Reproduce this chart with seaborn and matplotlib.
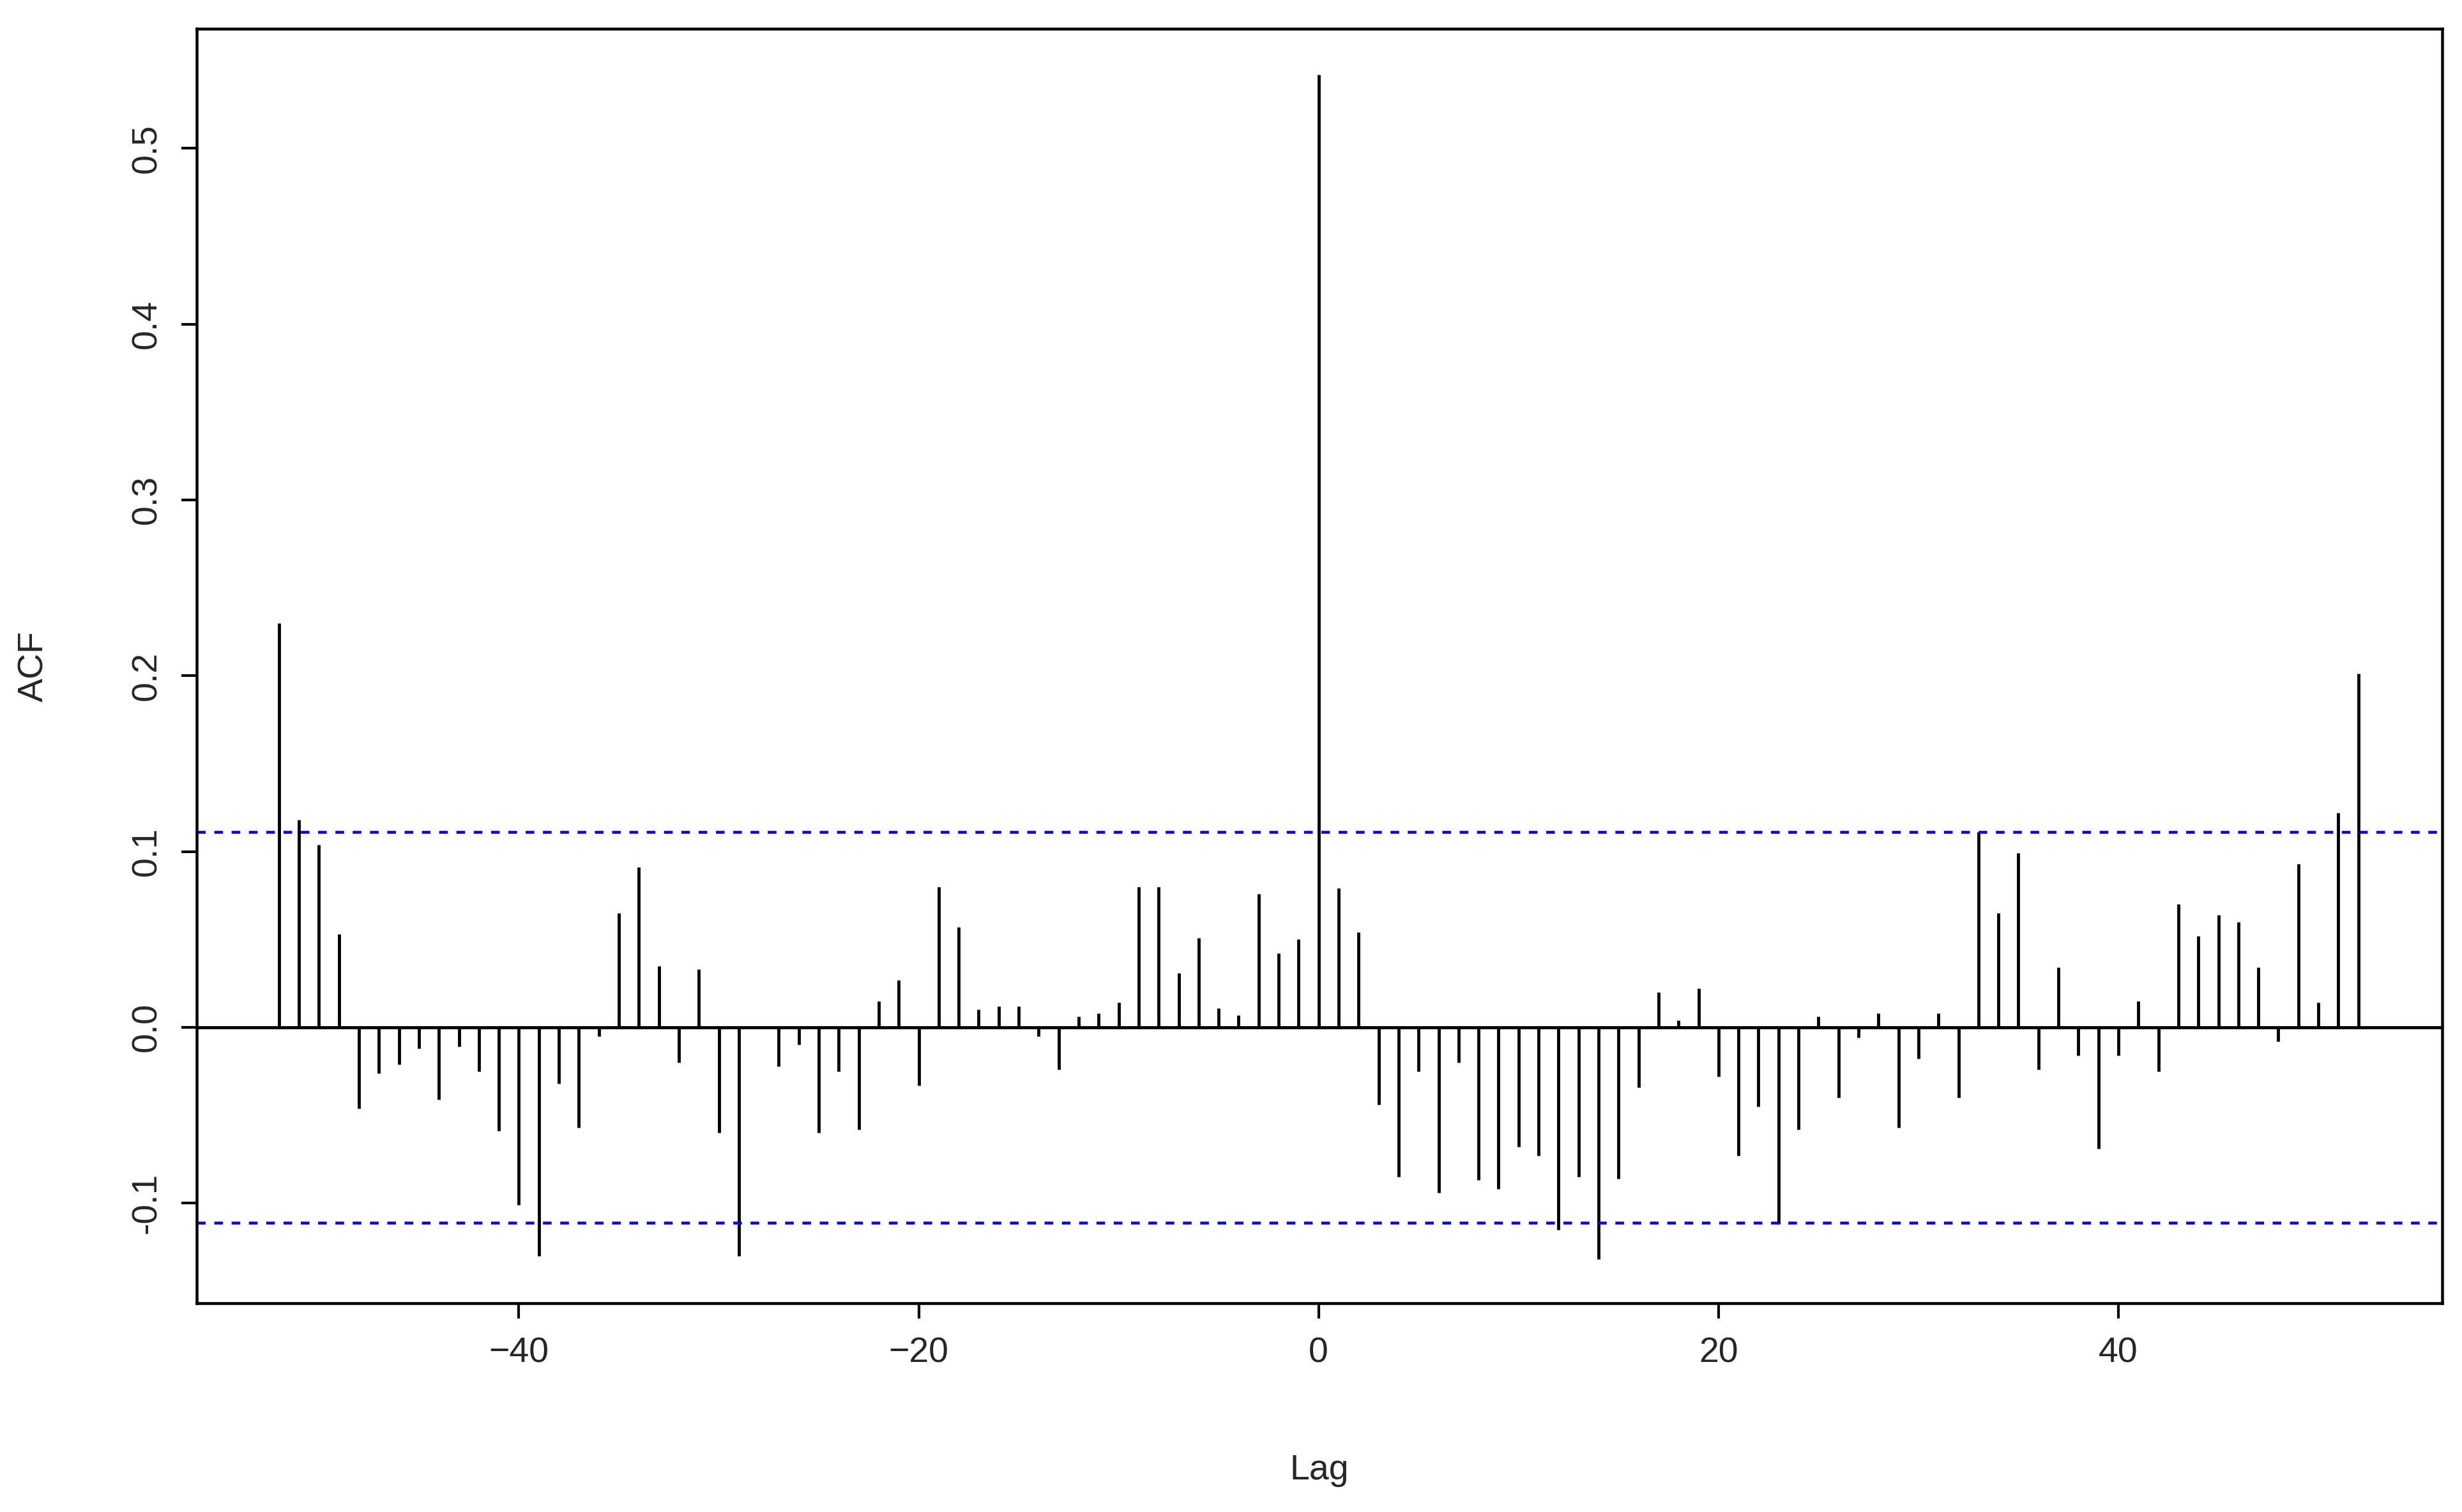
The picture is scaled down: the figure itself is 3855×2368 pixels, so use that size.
import numpy as np
import pandas as pd
import matplotlib
matplotlib.use("Agg")
import matplotlib.pyplot as plt
import seaborn as sns

lags = list(range(-52, 53))
acf_neg = [0.230, 0.118, 0.104, 0.053, -0.046, -0.026, -0.021, -0.012, -0.041, -0.011,
           -0.025, -0.059, -0.101, -0.130, -0.032, -0.057, -0.005, 0.065, 0.091, 0.035,
           -0.020, 0.033, -0.060, -0.130, 0.000, -0.022, -0.010, -0.060, -0.025, -0.058,
           0.015, 0.027, -0.033, 0.080, 0.057, 0.010, 0.012, 0.012, -0.005, -0.024,
           0.006, 0.008, 0.014, 0.080, 0.080, 0.031, 0.051, 0.011, 0.007, 0.076,
           0.042, 0.050]
acf_zero = [0.542]
acf_pos = [0.079, 0.054, -0.044, -0.085, -0.025, -0.094, -0.020, -0.087, -0.092, -0.068,
           -0.073, -0.115, -0.085, -0.132, -0.086, -0.034, 0.020, 0.004, 0.022, -0.028,
           -0.073, -0.045, -0.112, -0.058, 0.006, -0.040, -0.006, 0.008, -0.057, -0.018,
           0.008, -0.040, 0.111, 0.065, 0.099, -0.024, 0.034, -0.016, -0.069, -0.016,
           0.015, -0.025, 0.070, 0.052, 0.064, 0.060, 0.034, -0.008, 0.093, 0.014,
           0.122, 0.201]
conf_limit = 0.111

df = pd.DataFrame({"Lag": lags, "ACF": acf_neg + acf_zero + acf_pos})

sns.set_style("ticks")
plt.rcParams["font.family"] = ["Liberation Sans", "DejaVu Sans"]

fig, ax = plt.subplots(figsize=(15.42, 9.472), dpi=250)
fig.subplots_adjust(left=0.080, right=0.992, top=0.981, bottom=0.138)

ax.vlines(df["Lag"], 0, df["ACF"], color="black", linewidth=1.4)
ax.axhline(0, color="black", linewidth=1.4)
for c in (conf_limit, -conf_limit):
    ax.axhline(c, color="blue", linestyle=(0, (3, 3)), linewidth=1.3)

ax.set_xlim(-56.1, 56.2)
ax.set_ylim(-0.157, 0.568)
ax.set_xticks([-40, -20, 0, 20, 40])
ax.set_yticks([-0.1, 0.0, 0.1, 0.2, 0.3, 0.4, 0.5])
ax.set_yticklabels(["-0.1", "0.0", "0.1", "0.2", "0.3", "0.4", "0.5"], rotation=90, va="center")
ax.tick_params(labelsize=16, length=7, width=1.2, color="black", pad=8)
ax.set_xlabel("Lag", fontsize=16, labelpad=38)
ax.set_ylabel("ACF", fontsize=16, labelpad=36)
for s in ax.spines.values():
    s.set_linewidth(1.3)
    s.set_color("black")

fig.savefig("out.png", dpi=250)
